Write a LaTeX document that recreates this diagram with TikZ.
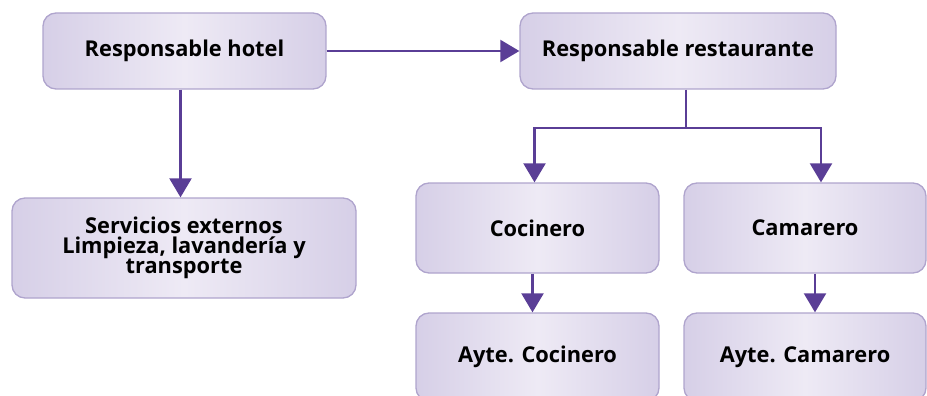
\documentclass[tikz,border=0pt]{standalone}
\usepackage{fontspec}
\setmainfont{Open Sans}
\usepackage{xcolor}
\usetikzlibrary{arrows.meta,positioning,calc}
\definecolor{boxedge}{HTML}{D6CFE7}
\definecolor{boxmid}{HTML}{EEEAF5}
\definecolor{boxline}{HTML}{AFA4CD}
\definecolor{arrpurple}{HTML}{5A3E96}
\tikzset{
  px/.style={x=1pt, y=-1pt},
  o box/.style={draw=boxline, line width=1.3pt, rounded corners=13pt, align=center,
    left color=boxedge, right color=boxedge, middle color=boxmid,
    font=\fontsize{21.8}{20}\selectfont\bfseries, inner sep=2pt},
  o arr/.style={-{Triangle[length=19pt, width=22pt]}, line width=2.2pt, arrpurple},
  o line/.style={line width=2.2pt, arrpurple},
}
\begin{document}
\begin{tikzpicture}[px]
\useasboundingbox (0,0) rectangle (927,396);
\node[o box, minimum width=283pt, minimum height=76pt] (hot) at (184.5,51) {Responsable hotel};
\node[o box, minimum width=316pt, minimum height=76pt] (res) at (678,51) {Responsable restaurante};
\node[o box, minimum width=344pt, minimum height=100pt] (ext) at (184,248) {Servicios externos\\Limpieza, lavandería y\\transporte};
\node[o box, minimum width=243pt, minimum height=90pt] (coc) at (537.5,228) {Cocinero};
\node[o box, minimum width=242pt, minimum height=90pt] (cam) at (805,228) {Camarero};
\node[o box, minimum width=243pt, minimum height=88pt] (acoc) at (537.5,357) {Ayte. Cocinero};
\node[o box, minimum width=242pt, minimum height=88pt] (acam) at (805,357) {Ayte. Camarero};
\coordinate (split) at (686,128);
\draw[o arr] (hot.east) -- (res.west);
\draw[o arr] ([xshift=-4pt]hot.south) -- ([xshift=-4pt]hot.south |- ext.north);
\draw[o line] (res.south -| split) -- (split);
\draw[o arr] (split) -| ([xshift=-3pt]coc.north);
\draw[o arr] (split) -| ([xshift=16pt]cam.north);
\draw[o arr] ([xshift=-5pt]coc.south) -- ([xshift=-5pt]coc.south |- acoc.north);
\draw[o arr] ([xshift=10pt]cam.south) -- ([xshift=10pt]cam.south |- acam.north);
\end{tikzpicture}
\end{document}
